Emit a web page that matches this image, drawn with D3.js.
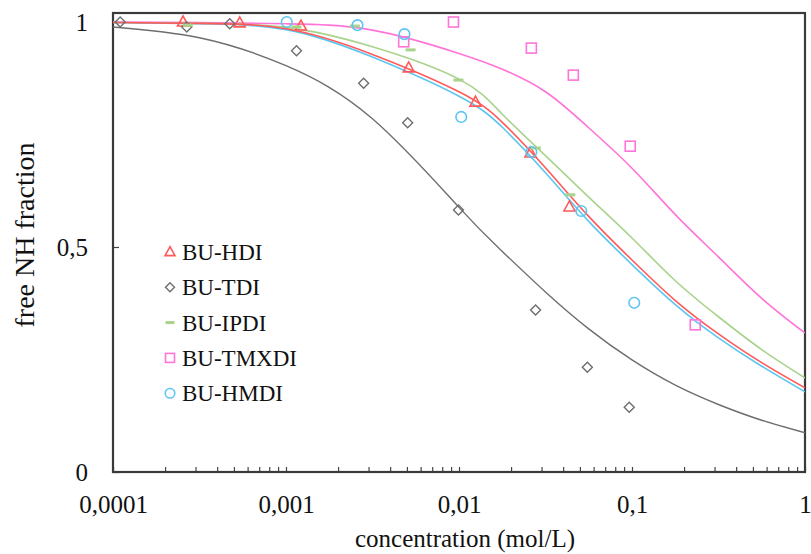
<!DOCTYPE html>
<html>
<head>
<meta charset="utf-8">
<script src="https://cdn.jsdelivr.net/npm/d3@7"></script>
<style>
  html, body { margin: 0; padding: 0; background: #fff; }
  svg { display: block; }
  text { font-family: "Liberation Serif", "Times New Roman", serif; fill: #111; }
</style>
</head>
<body>
<svg id="chart" width="811" height="554"></svg>
<script>
// ---------- data ----------
const seriesNames = ["BU-HDI", "BU-TDI", "BU-IPDI", "BU-TMXDI", "BU-HMDI"];

// measured points: concentration (mol/L) and free NH fraction
const hdiConc  = [0.000254, 0.00054, 0.00122, 0.00512, 0.01245, 0.0259, 0.0435];
const hdiFrac  = [1.0, 0.998, 0.991, 0.898, 0.822, 0.709, 0.589];
const tdiConc  = [0.00011, 0.000267, 0.000473, 0.00115, 0.00281, 0.00505, 0.00993, 0.0277, 0.0552, 0.0964];
const tdiFrac  = [1.0, 0.989, 0.996, 0.936, 0.864, 0.776, 0.582, 0.36, 0.233, 0.144];
const ipdiConc = [0.000271, 0.00115, 0.0025, 0.00525, 0.00993, 0.0278, 0.044];
const ipdiFrac = [0.993, 0.989, 0.991, 0.938, 0.871, 0.72, 0.616];
const tmxdiConc = [0.00479, 0.00929, 0.0262, 0.0458, 0.0977, 0.232];
const tmxdiFrac = [0.956, 1.0, 0.942, 0.882, 0.724, 0.327];
const hmdiConc = [0.00101, 0.00259, 0.00484, 0.0103, 0.0262, 0.0509, 0.103];
const hmdiFrac = [1.0, 0.993, 0.973, 0.789, 0.711, 0.58, 0.376];

// fitted curves at these concentrations
const curveConc = [0.0001, 0.000316, 0.001, 0.00316, 0.01, 0.0178, 0.0316, 0.0562, 0.1, 0.178, 0.316, 0.562, 1];
const hdiCurve   = [0.999, 0.997, 0.985, 0.928, 0.845, 0.777, 0.676, 0.568, 0.471, 0.381, 0.307, 0.243, 0.187];
const tdiCurve   = [0.989, 0.965, 0.903, 0.785, 0.588, 0.49, 0.40, 0.318, 0.249, 0.193, 0.150, 0.115, 0.087];
const ipdiCurve  = [0.999, 0.997, 0.988, 0.945, 0.873, 0.795, 0.703, 0.611, 0.52, 0.425, 0.345, 0.272, 0.209];
const tmxdiCurve = [1.0, 0.999, 0.996, 0.982, 0.93, 0.895, 0.845, 0.765, 0.675, 0.572, 0.478, 0.386, 0.309];
const hmdiCurve  = [0.999, 0.996, 0.983, 0.922, 0.835, 0.766, 0.665, 0.557, 0.461, 0.372, 0.298, 0.235, 0.178];

const xTickValues = [0.0001, 0.001, 0.01, 0.1, 1];
const xTickLabels = ["0,0001", "0,001", "0,01", "0,1", "1"];
const yTickValues = [0, 0.5, 1];
const yTickLabels = ["0", "0,5", "1"];

// ---------- styling / layout ----------
const colors = {
  "BU-HDI": "#ff5a5a",
  "BU-TDI": "#6e6e6e",
  "BU-IPDI": "#a9d38c",
  "BU-TMXDI": "#ff74d8",
  "BU-HMDI": "#5cc6f2"
};
const markers = {
  "BU-HDI": "triangle",
  "BU-TDI": "diamond",
  "BU-IPDI": "dash",
  "BU-TMXDI": "square",
  "BU-HMDI": "circle"
};

const series = [
  { name: "BU-HDI",   conc: hdiConc,   frac: hdiFrac,   curve: hdiCurve },
  { name: "BU-TDI",   conc: tdiConc,   frac: tdiFrac,   curve: tdiCurve },
  { name: "BU-IPDI",  conc: ipdiConc,  frac: ipdiFrac,  curve: ipdiCurve },
  { name: "BU-TMXDI", conc: tmxdiConc, frac: tmxdiFrac, curve: tmxdiCurve },
  { name: "BU-HMDI",  conc: hmdiConc,  frac: hmdiFrac,  curve: hmdiCurve }
];

const padL = 113, padR = 805, padT = 13, padB = 472;
const svg = d3.select("#chart");

const x = d3.scaleLog().domain([0.0001, 1]).range([padL, padR]);
const y = d3.scaleLinear().domain([0, 1]).range([padB, 22]);

// ---------- axes ----------
const minor = [];
for (let e = -4; e < 0; e++) {
  for (let k = 1; k <= 9; k++) minor.push(k * Math.pow(10, e));
}
minor.push(1);

const xAxis = d3.axisBottom(x)
  .tickValues(minor)
  .tickSize(-5)
  .tickPadding(23)
  .tickFormat(d => {
    const i = xTickValues.findIndex(v => Math.abs(v - d) / v < 1e-6);
    return i >= 0 ? xTickLabels[i] : "";
  });
const gx = svg.append("g").attr("transform", `translate(0,${padB})`).call(xAxis);
gx.select(".domain").remove();
gx.selectAll(".tick line").attr("stroke", "#444").attr("stroke-width", 1.2);
gx.selectAll(".tick text")
  .style("font-family", '"Liberation Serif", serif')
  .style("font-size", "25px")
  .attr("fill", "#111");

const yAxis = d3.axisLeft(y)
  .tickValues(yTickValues)
  .tickSize(-6)
  .tickPadding(25)
  .tickFormat((d, i) => yTickLabels[i]);
const gy = svg.append("g").attr("transform", `translate(${padL},0)`).call(yAxis);
gy.select(".domain").remove();
gy.selectAll(".tick line").attr("stroke", "#444").attr("stroke-width", 1.2);
gy.selectAll(".tick text")
  .style("font-family", '"Liberation Serif", serif')
  .style("font-size", "25px")
  .attr("fill", "#111");

// ---------- frame ----------
svg.append("rect")
  .attr("x", padL).attr("y", padT)
  .attr("width", padR - padL).attr("height", padB - padT)
  .attr("fill", "none").attr("stroke", "#3a3a3a").attr("stroke-width", 2.2);

// ---------- curves ----------
const line = d3.line()
  .x(d => x(d[0]))
  .y(d => y(d[1]))
  .curve(d3.curveNatural);

svg.append("clipPath").attr("id", "clip")
  .append("rect").attr("x", padL).attr("y", padT).attr("width", padR - padL).attr("height", padB - padT);
const plot = svg.append("g");

const curveOrder = ["BU-TDI", "BU-TMXDI", "BU-IPDI", "BU-HMDI", "BU-HDI"];
curveOrder.forEach(n => {
  const s = series.find(t => t.name === n);
  plot.append("path")
    .datum(curveConc.map((c, i) => [c, s.curve[i]]))
    .attr("d", line)
    .attr("fill", "none")
    .attr("stroke", colors[n])
    .attr("stroke-width", n === "BU-TDI" ? 1.4 : 1.6)
    .attr("clip-path", "url(#clip)");
});

// ---------- markers ----------
function drawMarker(g, type, cx, cy, color, scale) {
  const s = scale || 1;
  if (type === "triangle") {
    const h = 10 * s, w = 11 * s;
    g.append("path")
      .attr("d", `M${cx},${cy - h * 0.6} L${cx + w / 2},${cy + h * 0.4} L${cx - w / 2},${cy + h * 0.4} Z`)
      .attr("fill", "none").attr("stroke", color).attr("stroke-width", 1.6);
  } else if (type === "diamond") {
    const r = 5 * s;
    g.append("path")
      .attr("d", `M${cx},${cy - r} L${cx + r},${cy} L${cx},${cy + r} L${cx - r},${cy} Z`)
      .attr("fill", "none").attr("stroke", color).attr("stroke-width", 1.4);
  } else if (type === "dash") {
    g.append("rect")
      .attr("x", cx - 5 * s).attr("y", cy - 1.5).attr("width", 10 * s).attr("height", 3)
      .attr("fill", color);
  } else if (type === "square") {
    const a = 10 * s;
    g.append("rect")
      .attr("x", cx - a / 2).attr("y", cy - a / 2).attr("width", a).attr("height", a)
      .attr("fill", "none").attr("stroke", color).attr("stroke-width", 1.6);
  } else if (type === "circle") {
    g.append("circle")
      .attr("cx", cx).attr("cy", cy).attr("r", 5.3 * s)
      .attr("fill", "none").attr("stroke", color).attr("stroke-width", 1.6);
  }
}

const pts = svg.append("g");
series.forEach(s => {
  s.conc.forEach((c, i) => {
    drawMarker(pts, markers[s.name], x(c), y(s.frac[i]), colors[s.name], 1);
  });
});

// ---------- legend ----------
const legend = svg.append("g");
seriesNames.forEach((n, i) => {
  const ly = 252 + i * 35.3;
  drawMarker(legend, markers[n], 170, ly, colors[n], 0.9);
  legend.append("text")
    .attr("x", 182).attr("y", ly)
    .attr("dy", "0.35em")
    .style("font-size", "23px")
    .text(n);
});

// ---------- axis titles ----------
svg.append("text")
  .attr("x", 465).attr("y", 547)
  .attr("text-anchor", "middle")
  .style("font-size", "25px")
  .text("concentration (mol/L)");

svg.append("text")
  .attr("transform", "translate(34,235) rotate(-90)")
  .attr("text-anchor", "middle")
  .style("font-size", "28px")
  .text("free NH fraction");
</script>
</body>
</html>
